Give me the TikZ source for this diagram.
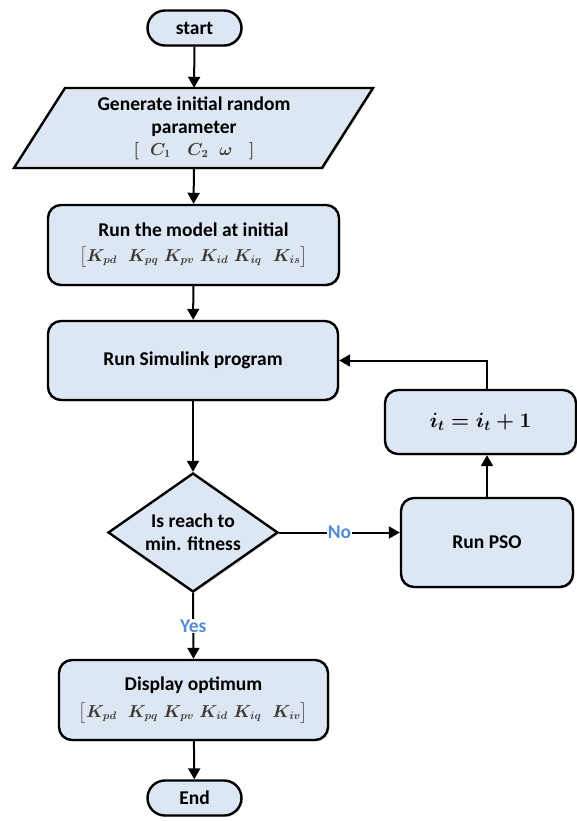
\documentclass[tikz,border=0pt]{standalone}
\usepackage{amsmath}
\usepackage{bm}
\usepackage{fontspec}
\setmainfont{Carlito}
\usetikzlibrary{arrows.meta,shapes.geometric,shapes.misc,shadows}
\definecolor{boxfill}{RGB}{220,231,243}
\definecolor{labelblue}{RGB}{84,141,212}
\definecolor{mathgray}{RGB}{60,55,50}
\newcommand{\kvec}[1]{{\fontsize{16}{20}\selectfont\color{mathgray}\boldmath$\big[K_{pd}\;\;K_{pq}\;K_{pv}\;K_{id}\;K_{iq}\;\;K_{#1}\big]$}}
\tikzset{
	shade box/.style={drop shadow={shadow xshift=1.5pt, shadow yshift=-1.5pt, opacity=0.25}},
	box/.style={draw, line width=2.4pt, fill=boxfill, rounded corners=13pt, align=center, inner sep=0pt, shade box},
	terminal/.style={draw, line width=2.4pt, fill=boxfill, rounded rectangle, minimum width=94pt, minimum height=35pt, inner sep=0pt, shade box},
	decision/.style={draw, line width=2.4pt, fill=boxfill, diamond, aspect=1.43, minimum width=170pt, minimum height=119pt, inner sep=0pt, align=center, shade box},
	arr/.style={line width=2pt, -{Triangle[length=11pt,width=12pt]}},
	lbl/.style={fill=white, text=labelblue, inner sep=1pt},
}
\begin{document}
\begin{tikzpicture}[x=1pt, y=-1pt, font=\fontsize{19.5}{23}\selectfont\bfseries]
				\useasboundingbox (0,0) rectangle (577,821);
				\coordinate (A) at (65, 88);
				\coordinate (B) at (373, 88);
				\coordinate (C) at (322, 168);
				\coordinate (D) at (14, 168);
				
				\node[terminal] (start) at (194.5, 28) {start};
				\draw[line width=2.4pt, fill=boxfill, shade box] (A) -- (B) -- (C) -- (D) -- cycle;
				\node[minimum width=250pt, minimum height=80pt, align=center, inner sep=0pt] (param) at (194, 128) {Generate initial random\\parameter\\[-1pt]{\fontsize{16}{20}\selectfont\color{mathgray}\boldmath$[\;\;C_1\;\;\;C_2\;\;\omega\;\;\;]$}};
				\node[box, minimum width=291pt, minimum height=80pt] (model) at (193.5, 245) {Run the model at initial\\[2pt]\kvec{is}};
				\node[box, minimum width=290pt, minimum height=79pt] (sim) at (193, 360.5) {Run Simulink program};
				\node[decision] (fit) at (193, 532.5) {Is reach to\\min. fitness};
				\node[box, minimum width=269pt, minimum height=80pt] (disp) at (193.5, 700) {Display optimum\\[4pt]\kvec{iv}};
				\node[terminal] (stop) at (194.5, 798) {End};
				\node[box, minimum width=172pt, minimum height=89pt] (pso) at (487, 542.5) {Run PSO};
				\node[box, minimum width=191pt, minimum height=64pt, font=\fontsize{22}{24}\selectfont\boldmath] (it) at (480.5, 422) {$i_t = i_t + 1$};
				
				\draw[arr] (start.south) -- (param.north);
				\draw[arr] (param.south) -- (model.north);
				\draw[arr] (model) -- (sim);
				\draw[arr] (sim) -- (fit);
				\draw[arr] (fit.east) -- node[lbl] {No} (pso.west |- fit.east);
				\draw[arr] (fit.south) -- node[lbl] {Yes} (disp.north);
				\draw[arr] (disp) -- (stop);
				\draw[arr] (pso.north) -- (pso.north |- it.south);
				\draw[arr] (it.north -| pso.north) |- (sim.east);
			\end{tikzpicture}
\end{document}
